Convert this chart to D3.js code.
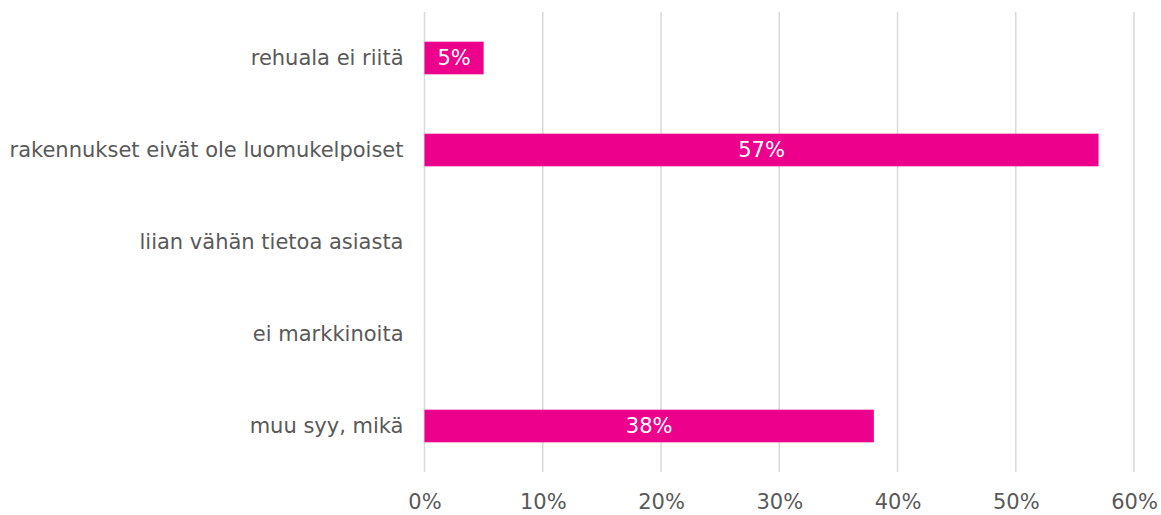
<!DOCTYPE html>
<html>
<head>
<meta charset="utf-8">
<script src="https://cdn.jsdelivr.net/npm/d3@7"></script>
<style>
  body { margin: 0; background: #fff; }
  text { font-family: "DejaVu Sans", Verdana, sans-serif; }
</style>
</head>
<body>
<div id="chart"></div>
<script>
// data
let categories = ["rehuala ei riitä", "rakennukset eivät ole luomukelpoiset", "liian vähän tietoa asiasta", "ei markkinoita", "muu syy, mikä"];
let values = [0.05, 0.57, null, null, 0.38];
let ticks = [0, 0.1, 0.2, 0.3, 0.4, 0.5, 0.6];

let margin = {top: 12, right: 27, bottom: 43, left: 424.5},
    width = 1161 - margin.left - margin.right,
    height = 515 - margin.top - margin.bottom;

let svg = d3.select("#chart")
    .append("svg")
    .attr("width", 1161)
    .attr("height", 515)
    .append("g")
    .attr("transform", "translate(" + margin.left + "," + margin.top + ")");

let x = d3.scaleLinear().domain([0, 0.6]).range([0, width]);
let y = d3.scaleBand().domain(categories).range([0, height]).paddingInner(0.645).paddingOuter(0.3225);

// gridlines
svg.append("g")
    .selectAll("line")
    .data(ticks)
    .enter()
    .append("line")
    .attr("x1", d => x(d)).attr("x2", d => x(d))
    .attr("y1", 0).attr("y2", height)
    .attr("stroke", "#d9d9d9")
    .attr("stroke-width", 1.5);

// x axis
let xAxis = svg.append("g")
    .attr("transform", "translate(0," + height + ")")
    .call(d3.axisBottom(x).tickValues(ticks).tickFormat(d3.format(".0%")).tickSize(0).tickPadding(22));
xAxis.select(".domain").remove();
xAxis.selectAll("text").attr("fill", "#595959").style("font-size", "21px");

// y axis
let yAxis = svg.append("g")
    .call(d3.axisLeft(y).tickSize(0).tickPadding(21));
yAxis.select(".domain").remove();
yAxis.selectAll("text").attr("fill", "#595959").style("font-size", "21px");

let data = categories.map((c, i) => ({cat: c, value: values[i]})).filter(d => d.value != null);

// bars
svg.append("g")
    .selectAll("rect")
    .data(data)
    .enter()
    .append("rect")
    .attr("x", x(0))
    .attr("y", d => y(d.cat))
    .attr("width", d => x(d.value) - x(0))
    .attr("height", y.bandwidth())
    .attr("fill", "#EC008C");

// labels
svg.append("g")
    .selectAll("text")
    .data(data)
    .enter()
    .append("text")
    .attr("x", d => x(d.value / 2))
    .attr("y", d => y(d.cat) + y.bandwidth() / 2)
    .attr("dy", "0.35em")
    .attr("text-anchor", "middle")
    .attr("fill", "#fff")
    .style("font-size", "21px")
    .text(d => d3.format(".0%")(d.value));
</script>
</body>
</html>
